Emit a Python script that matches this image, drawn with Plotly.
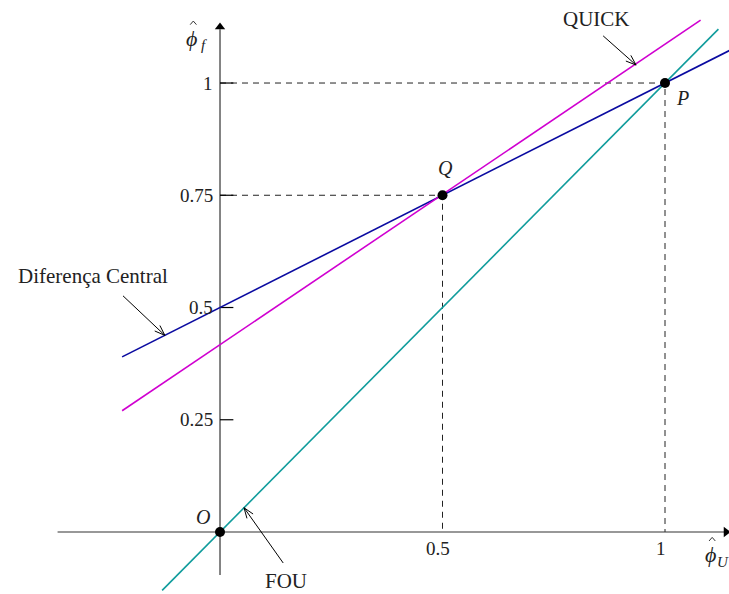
import math
import plotly.graph_objects as go

# Normalised variable diagram: face value vs. upwind value
cd_x = [-0.22, 1.16]
cd_y = [0.39, 1.08]
quick_x = [-0.22, 1.08]
quick_y = [0.27, 1.14]
fou_x = [-0.13, 1.12]
fou_y = [-0.13, 1.12]

point_names = ["O", "Q", "P"]
point_x = [0.0, 0.5, 1.0]
point_y = [0.0, 0.75, 1.0]

y_ticks = [0.25, 0.5, 0.75, 1.0]
y_tick_text = ["0.25", "0.5", "0.75", "1"]
x_ticks = [0.5, 1.0]
x_tick_text = ["0.5", "1"]

FONT = "Liberation Serif"
TXT = "#222222"
AX = "#333333"

X_RANGE = [-0.4944, 1.1438]
Y_RANGE = [-0.1381, 1.1849]
W, H = 729, 594
SX = W / (X_RANGE[1] - X_RANGE[0])   # pixels per data unit
SY = H / (Y_RANGE[1] - Y_RANGE[0])

fig = go.Figure()

def deco(xs, ys, color="black", width=1.0, dash=None):
    fig.add_trace(go.Scatter(x=xs, y=ys, mode="lines",
                             line=dict(color=color, width=width, dash=dash),
                             hoverinfo="skip", showlegend=False))

# guide lines from Q and P to the axes
for px_, py_ in [(0.5, 0.75), (1.0, 1.0)]:
    deco([0, px_, px_], [py_, py_, 0], color="#222", width=1, dash="6px,5px")

# axes
deco([-0.365, 1.14], [0, 0], color=AX, width=1.2)
deco([0, 0], [-0.096, 1.12], color=AX, width=1.2)
fig.add_trace(go.Scatter(x=[1.137], y=[0], mode="markers",
                         marker=dict(symbol="triangle-right", size=9, color="black"),
                         showlegend=False, hoverinfo="skip"))
fig.add_trace(go.Scatter(x=[0], y=[1.125], mode="markers",
                         marker=dict(symbol="triangle-up", size=9, color="black"),
                         showlegend=False, hoverinfo="skip"))

# y tick marks
for t in y_ticks:
    deco([0, 0.03], [t, t], color="black", width=1.2)

# scheme lines
fig.add_trace(go.Scatter(x=cd_x, y=cd_y, mode="lines", name="Diferença Central",
                         line=dict(color="#0a0aa0", width=1.6), showlegend=False))
fig.add_trace(go.Scatter(x=quick_x, y=quick_y, mode="lines", name="QUICK",
                         line=dict(color="#d000d0", width=1.6), showlegend=False))
fig.add_trace(go.Scatter(x=fou_x, y=fou_y, mode="lines", name="FOU",
                         line=dict(color="#109c9c", width=1.6), showlegend=False))

# key points
fig.add_trace(go.Scatter(x=point_x, y=point_y, mode="markers",
                         marker=dict(size=10, color="black"),
                         showlegend=False, hoverinfo="skip"))

ann = []
def txt(x, y, s, size=21, xanchor="center", italic=False):
    if italic:
        s = "<i>" + s + "</i>"
    ann.append(dict(x=x, y=y, text=s, showarrow=False, xanchor=xanchor,
                    yanchor="middle", font=dict(family=FONT, size=size, color=TXT)))

def arrow(x0, y0, x1, y1, head=11, half_angle=20):
    """Thin pointer with an open V head at (x1, y1)."""
    deco([x0, x1], [y0, y1], width=1)
    dx, dy = (x1 - x0) * SX, (y1 - y0) * SY
    ang = math.atan2(dy, dx)
    for s in (+1, -1):
        a = ang + math.pi + s * math.radians(half_angle)
        deco([x1 + head * math.cos(a) / SX, x1],
             [y1 + head * math.sin(a) / SY, y1], width=1)

# tick labels
for t, s in zip(y_ticks, y_tick_text):
    txt(-0.012, t, s, size=19, xanchor="right")
for t, s in zip(x_ticks, x_tick_text):
    txt(t - 0.01, -0.036, s, size=19)

# point labels
txt(-0.038, 0.034, "O", size=20, italic=True)
txt(0.506, 0.811, "Q", size=20, italic=True)
txt(1.040, 0.967, "P", size=20, italic=True)

# axis titles: phi with a hat and a subscript
def hat_phi(x, y, sub):
    txt(x, y, "ϕ", size=22, italic=True)
    hx, hy = x + 0.003, y + 0.030
    deco([hx - 0.007, hx, hx + 0.007], [hy, hy + 0.008, hy], color="#333", width=1)
    txt(x + 0.027, y - 0.016, sub, size=15, italic=True)

hat_phi(-0.063, 1.100, "f")
hat_phi(1.103, -0.050, "U")

# scheme labels with arrows
txt(-0.285, 0.570, "Diferença Central")
arrow(-0.218, 0.526, -0.124, 0.438)
txt(0.845, 1.143, "QUICK")
arrow(0.861, 1.105, 0.935, 1.040)
txt(0.148, -0.109, "FOU")
arrow(0.142, -0.069, 0.054, 0.054)

fig.update_layout(
    width=W, height=H,
    margin=dict(l=0, r=0, t=0, b=0),
    paper_bgcolor="white", plot_bgcolor="white",
    xaxis=dict(range=X_RANGE, visible=False, showgrid=False, zeroline=False),
    yaxis=dict(range=Y_RANGE, visible=False, showgrid=False, zeroline=False),
    annotations=ann,
    showlegend=False,
)

fig.write_html("out.html")
